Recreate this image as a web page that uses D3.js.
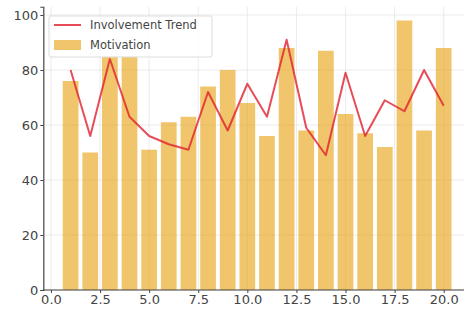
<!DOCTYPE html>
<html>
<head>
<meta charset="utf-8">
<script src="https://cdn.jsdelivr.net/npm/d3@7"></script>
<style>
  body { margin: 0; background: #fff; }
  text { font-family: "DejaVu Sans", sans-serif; }
</style>
</head>
<body>
<div id="vis"></div>
<script>
// data
var steps = d3.range(1, 21);
var motivation = [76, 50, 85, 85, 51, 61, 63, 74, 80, 68, 56, 88, 58, 87, 64, 57, 52, 98, 58, 88];
var involvement = [80, 56, 84, 63, 56, 53, 51, 72, 58, 75, 63, 91, 59, 49, 79, 56, 69, 65, 80, 67];
var xTicks = [0, 2.5, 5, 7.5, 10, 12.5, 15, 17.5, 20];
var yTicks = [0, 20, 40, 60, 80, 100];

var width = 464, height = 316;
var barColor = '#e8a212';
var lineColor = '#e0202e';

var svg = d3.select('#vis').append('svg')
  .attr('width', width)
  .attr('height', height);

var x = d3.scaleLinear().domain([-0.39, 21.39]).range([43.3, 471]);
var y = d3.scaleLinear().domain([0, 103]).range([290, 6.75]);

// grid
svg.append('g').selectAll('line.gx')
  .data(xTicks).enter().append('line')
  .attr('x1', d => x(d)).attr('x2', d => x(d))
  .attr('y1', y(103)).attr('y2', y(0))
  .attr('stroke', '#e6e6e6').attr('stroke-width', 0.8);
svg.append('g').selectAll('line.gy')
  .data(yTicks).enter().append('line')
  .attr('x1', x(-0.39)).attr('x2', width)
  .attr('y1', d => y(d)).attr('y2', d => y(d))
  .attr('stroke', '#e6e6e6').attr('stroke-width', 0.8);

// bars
svg.append('g').selectAll('rect')
  .data(steps).enter().append('rect')
  .attr('x', d => x(d - 0.4))
  .attr('width', x(0.8) - x(0))
  .attr('y', (d, i) => y(motivation[i]))
  .attr('height', (d, i) => y(0) - y(motivation[i]))
  .attr('fill', barColor)
  .attr('fill-opacity', 0.62);

// line, a bit see-through, on top of the bars
var line = d3.line()
  .x((d, i) => x(steps[i]))
  .y(d => y(d));
svg.append('path')
  .datum(involvement)
  .attr('d', line)
  .attr('fill', 'none')
  .attr('stroke', lineColor)
  .attr('stroke-opacity', 0.8)
  .attr('stroke-width', 2)
  .attr('stroke-linejoin', 'round');

// axes
var xAxis = d3.axisBottom(x).tickValues(xTicks).tickFormat(d3.format('.1f')).tickSize(3).tickPadding(2);
var yAxis = d3.axisLeft(y).tickValues(yTicks).tickSize(3).tickPadding(2);

var gx = svg.append('g').attr('transform', 'translate(0,' + y(0) + ')').call(xAxis);
var gy = svg.append('g').attr('transform', 'translate(' + x(-0.39) + ',0)').call(yAxis);
[gx, gy].forEach(function (g) {
  g.select('.domain').attr('stroke', '#444').attr('stroke-width', 1.2);
  g.selectAll('.tick line').attr('stroke', '#444');
  g.selectAll('.tick text').attr('fill', '#444').style('font-size', '13px');
});
gx.select('.domain').attr('d', 'M' + x(-0.39) + ',0H' + width);

// legend
var lg = svg.append('g').attr('transform', 'translate(49,16)');
lg.append('rect')
  .attr('width', 163).attr('height', 41).attr('rx', 2)
  .attr('fill', 'rgba(255,255,255,0.8)')
  .attr('stroke', '#dddddd');
lg.append('line')
  .attr('x1', 5).attr('x2', 32).attr('y1', 9).attr('y2', 9)
  .attr('stroke', lineColor).attr('stroke-opacity', 0.8).attr('stroke-width', 2);
lg.append('text').attr('x', 41).attr('y', 13)
  .attr('fill', '#444').style('font-size', '11.5px')
  .text('Involvement Trend');
lg.append('rect')
  .attr('x', 5).attr('y', 24).attr('width', 27).attr('height', 10)
  .attr('fill', barColor).attr('fill-opacity', 0.62);
lg.append('text').attr('x', 41).attr('y', 33)
  .attr('fill', '#444').style('font-size', '11.5px')
  .text('Motivation');
</script>
</body>
</html>
